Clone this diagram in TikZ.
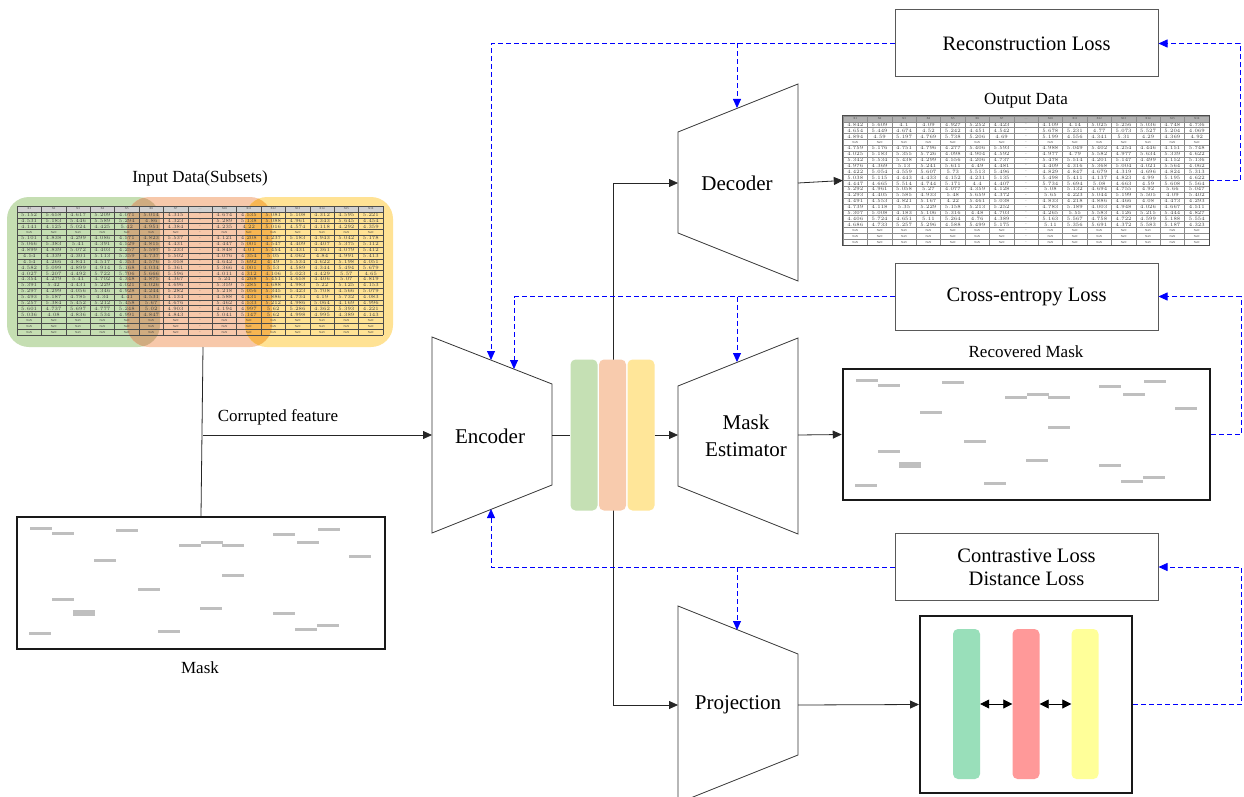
\documentclass[tikz,border=0pt]{standalone}
\usepackage{fontspec}
\setmainfont{Liberation Serif}
\usetikzlibrary{arrows.meta}

\definecolor{lossblue}{RGB}{0,0,255}
\definecolor{setG}{RGB}{197,222,178}
\definecolor{setO}{RGB}{247,200,170}
\definecolor{setY}{RGB}{255,226,148}
\definecolor{setGO}{RGB}{208,172,128}
\definecolor{setOY}{RGB}{247,182,82}
\definecolor{barG}{RGB}{197,224,180}
\definecolor{barO}{RGB}{248,203,173}
\definecolor{barY}{RGB}{255,230,153}
\definecolor{projG}{RGB}{153,223,186}
\definecolor{projR}{RGB}{255,153,153}
\definecolor{projY}{RGB}{255,255,153}
\definecolor{maskgray}{RGB}{191,191,191}

% one data table: top-left x, top-left y, grid colour, header fill, random seed
\newcommand\datatable[5]{%
  \begin{scope}[shift={(#1,#2)}]
    \fill[#4] (0,0) rectangle (366,5.864);
    \pgfmathsetseed{#5}
    \foreach \r in {1,...,21}{
      \foreach \c in {0,...,14}{
        \pgfmathsetmacro\cx{12.2+24.4*\c}
        \pgfmathsetmacro\cy{2.932+5.864*\r}
        \ifnum\c=7 \def\cell{...}\else
          \ifnum\r=4 \def\cell{NaN}\else
            \ifnum\r>18 \def\cell{NaN}\else
              \pgfmathsetmacro\v{4+1.75*rnd}%
              \def\cell{\pgfmathprintnumber[fixed,precision=3]{\v}}%
            \fi
          \fi
        \fi
        \node[celltext] at (\cx,\cy) {\cell};
      }
    }
    \foreach \h [count=\i from 0] in {X1,X2,X3,X4,X5,X6,X7,\dots,X10,X11,X12,X13,X14,X15,X16}
      \node[celltext] at ({12.2+24.4*\i},2.932) {\h};
    \foreach \c in {0,...,15}
      \draw[#3] ({24.4*\c},0) -- ({24.4*\c},129);
    \foreach \r in {0,...,22}
      \draw[#3] (0,{5.864*\r}) -- (366,{5.864*\r});
  \end{scope}}

% scattered grey bars of a mask, relative to the frame's top-left corner
\newcommand\maskdashes{%
  \foreach \mx/\my in {13/11,35/16,99/13,162/28,184/25,205/28,256/17,301/12,280/25,332/39,77/43,205/58,121/72,35/82,183/91,256/96,12/116,141/114,278/112,300/108}
    \fill[maskgray] (\mx,\my-1.5) rectangle (\mx+22,\my+1.5);
  \fill[maskgray] (56,93) rectangle (78,99);}

\begin{document}
\begin{tikzpicture}[x=1pt,y=-1pt,
  celltext/.style={font=\fontsize{3}{3.2}\selectfont, text=black!75, inner sep=0pt},
  flow/.style={draw=black!85, line width=0.8pt, -{Triangle[length=9pt,width=8pt]}},
  plain/.style={draw=black!85, line width=0.8pt},
  twoway/.style={draw=black, line width=0.8pt, {Triangle[length=9pt,width=9pt]}-{Triangle[length=9pt,width=9pt]}},
  fb/.style={draw=lossblue, line width=0.8pt, dash pattern=on 5pt off 3pt, -{Triangle[length=9pt,width=8pt]}},
  lossbox/.style={draw=black!65, line width=1pt, fill=white, minimum width=263pt, minimum height=67pt, inner sep=0pt, font=\fontsize{20.5}{23}\selectfont, align=center},
  blocklabel/.style={font=\fontsize{21}{27}\selectfont, align=center, inner sep=0pt},
  caption/.style={font=\fontsize{17}{20}\selectfont, inner sep=0pt},
  trap/.style={draw=black!80, line width=0.8pt, fill=white},
  frame/.style={draw=black!90, line width=2.5pt, fill=white, inner sep=0pt},
  bar/.style={rounded corners=5pt, inner sep=0pt, minimum width=27pt, minimum height=151pt}]

\useasboundingbox (0,0) rectangle (1244,797);
\clip (0,0) rectangle (1244,797);
\fill[white] (0,0) rectangle (1244,797);

% ---------- input data subsets ----------
\fill[setG, rounded corners=22pt] (7,197) rectangle (160,347);
\fill[setO, rounded corners=22pt] (127,197) rectangle (272,347);
\fill[setY, rounded corners=22pt] (245,197) rectangle (393,347);
\begin{scope}
  \clip[rounded corners=22pt] (7,197) rectangle (160,347);
  \fill[setGO, rounded corners=22pt] (127,197) rectangle (272,347);
\end{scope}
\begin{scope}
  \clip[rounded corners=22pt] (127,197) rectangle (272,347);
  \fill[setOY, rounded corners=22pt] (245,197) rectangle (393,347);
\end{scope}
\datatable{17}{206}{black!70, line width=0.45pt}{black!18}{11}
\node[caption] (inlabel) at (200,178) {Input Data(Subsets)};
\coordinate (inbottom) at (203,347);
\coordinate (split) at (203,435);

% ---------- input mask ----------
\node[frame, minimum width=368pt, minimum height=132pt] (mask) at (201,583) {};
\begin{scope}[shift={(17,517)}]\maskdashes\end{scope}
\node[caption] (masklabel) at (200,668) {Mask};

\draw[plain] (inbottom) -- (mask.north);
\coordinate (enc-in) at (432,435);
\draw[flow] (split) -- (enc-in);
\node[caption] (corrupt) at (278,417) {Corrupted feature};

% ---------- encoder ----------
\draw[trap] (432,337) -- (552,384) -- (552,485) -- (432,533) -- cycle;
\node[blocklabel] (enc) at (490,436) {Encoder};
\coordinate (enc-out) at (552,435);
\coordinate (enc-t1) at (491,360);
\coordinate (enc-t2) at (514,369);
\coordinate (enc-b) at (491,509);

% ---------- latent bars and trunk ----------
\coordinate (vtop) at (613,183);
\coordinate (vbot) at (613,705);
\draw[plain] (vtop) -- (vbot);
\node[bar, fill=barG] (bg) at (584,435) {};
\node[bar, fill=barO] (bo) at (612.5,435) {};
\node[bar, fill=barY] (by) at (641,435) {};
\draw[plain] (enc-out) -- (bg.west);

% ---------- decoder ----------
\draw[trap] (678,132) -- (798,84) -- (798,281) -- (678,233) -- cycle;
\node[blocklabel] (dec) at (737,183) {Decoder};
\coordinate (dec-in) at (678,183);
\coordinate (dec-out) at (798,183);
\coordinate (dec-t) at (737,108);

% ---------- mask estimator ----------
\draw[trap] (678,386) -- (798,338) -- (798,534) -- (678,486) -- cycle;
\node[blocklabel] (est) at (746,436) {Mask\\Estimator};
\coordinate (est-in) at (678,435);
\coordinate (est-out) at (798,435);
\coordinate (est-t) at (737,362);

% ---------- projection ----------
\draw[trap] (678,606) -- (798,654) -- (798,755) -- (678,803) -- cycle;
\node[blocklabel] (proj) at (738,705) {Projection};
\coordinate (proj-in) at (678,705);
\coordinate (proj-out) at (798,705);
\coordinate (proj-t) at (737,630);

\draw[flow] (by.east) -- (est-in);
\draw[flow] (vtop) -- (dec-in);
\draw[flow] (vbot) -- (proj-in);

% ---------- output data ----------
\node[inner sep=0pt, minimum width=366pt, minimum height=129pt] (out) at (1026,180.5) {};
\datatable{843}{116}{black!45, line width=0.6pt}{black!30}{5}
\draw[black!70, line width=0.9pt] (out.north west) rectangle (out.south east);
\node[caption] (outlabel) at (1026,101) {Output Data};
\draw[flow] (dec-out) -- (out.west);

% ---------- recovered mask ----------
\node[frame, minimum width=367pt, minimum height=131pt] (rmask) at (1026.5,434.5) {};
\begin{scope}[shift={(843,369)}]\maskdashes\end{scope}
\node[caption] (rmlabel) at (1026,352) {Recovered Mask};
\draw[flow] (est-out) -- (rmask.west);

% ---------- contrastive view ----------
\node[frame, line width=2pt, minimum width=212pt, minimum height=177pt] (cbox) at (1026,704.5) {};
\node[bar, fill=projG, minimum height=150pt, minimum width=27pt] (pg) at (966.5,704) {};
\node[bar, fill=projR, minimum height=150pt, minimum width=27pt] (pr) at (1026,704) {};
\node[bar, fill=projY, minimum height=150pt, minimum width=27pt] (py) at (1085,704) {};
\draw[twoway] (pg.east) -- (pr.west);
\draw[twoway] (pr.east) -- (py.west);
\draw[flow] (proj-out) -- (cbox.west);

% ---------- losses ----------
\node[lossbox] (rec) at (1026.5,43.5) {Reconstruction Loss};
\node[lossbox] (ce) at (1026.5,296.5) {Cross-entropy Loss};
\node[lossbox] (cl) at (1026.5,567) {Contrastive Loss\\Distance Loss};

\coordinate (rec-br) at (737,43.5);
\coordinate (ce-br) at (737,296.5);
\coordinate (cl-br) at (737,567);

% feedback paths (dashed)
\draw[fb] (rec.west) -| (enc-t1);
\draw[fb] (rec-br) -- (dec-t);
\draw[fb] (out.east) -- ++(31,0) |- (rec.east);

\draw[fb] (ce.west) -| (enc-t2);
\draw[fb] (ce-br) -- (est-t);
\draw[fb] (rmask.east) -- ++(30,0) |- (ce.east);

\draw[fb] (cl.west) -| (enc-b);
\draw[fb] (cl-br) -- (proj-t);
\draw[fb] (cbox.east) -- ++(108,0) |- (cl.east);

\end{tikzpicture}
\end{document}
